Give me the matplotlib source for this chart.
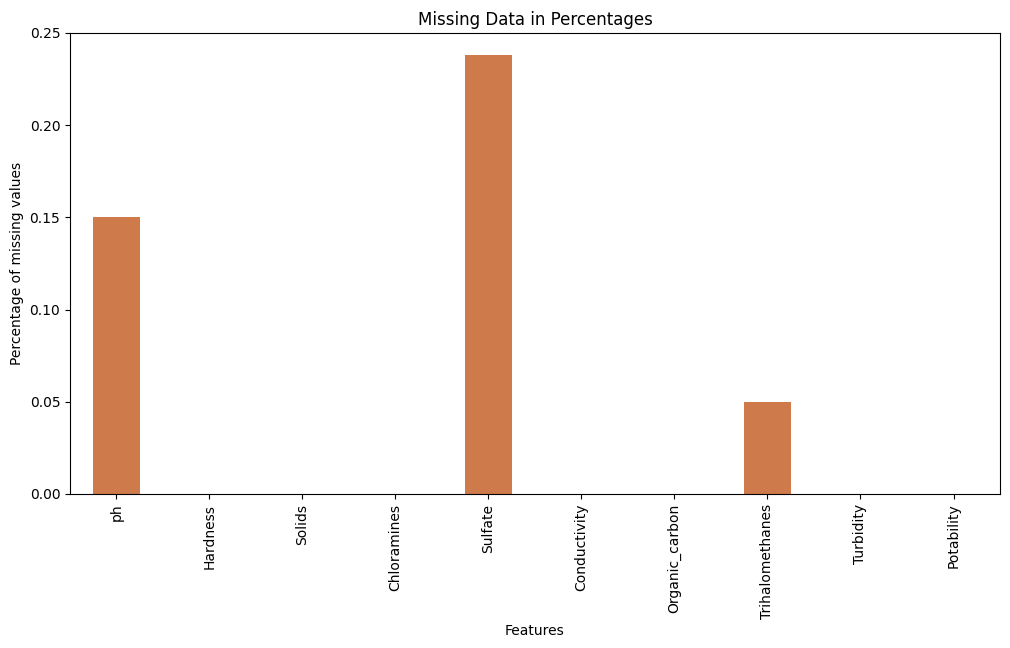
import matplotlib
matplotlib.use('Agg')
import matplotlib.pyplot as plt

# missing fraction per column (water potability data)
features = ['ph', 'Hardness', 'Solids', 'Chloramines', 'Sulfate',
            'Conductivity', 'Organic_carbon', 'Trihalomethanes',
            'Turbidity', 'Potability']
missing = [0.150, 0.0, 0.0, 0.0, 0.238, 0.0, 0.0, 0.050, 0.0, 0.0]

fig = plt.figure(figsize=(10.1, 6.48), dpi=100)
ax = fig.add_axes([0.0693, 0.2377, 0.9208, 0.7114])

ax.bar(range(len(features)), missing, width=0.5, color='#cf7a4b')
ax.set_xticks(range(len(features)))
ax.set_xticklabels(features, rotation=90)
ax.set_xlim(-0.5, len(features) - 0.5)
ax.set_ylim(0, 0.25)
ax.set_yticks([0.0, 0.05, 0.10, 0.15, 0.20, 0.25])
ax.set_yticklabels(['0.00', '0.05', '0.10', '0.15', '0.20', '0.25'])
ax.set_xlabel('Features')
ax.set_ylabel('Percentage of missing values')
ax.set_title('Missing Data in Percentages')

fig.savefig('out.png', dpi=100)
